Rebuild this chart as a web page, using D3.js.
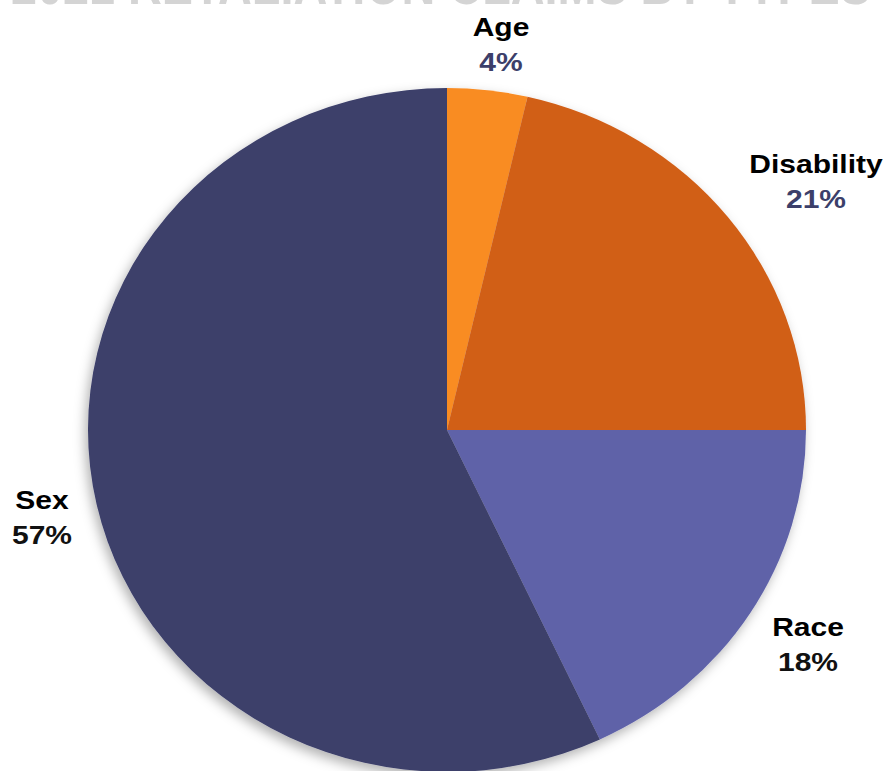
<!DOCTYPE html>
<html>
<head>
<meta charset="utf-8">
<script src="https://cdn.jsdelivr.net/npm/d3@7"></script>
<style>
  body { margin: 0; background: #fff; }
  svg { display: block; }
</style>
</head>
<body>
<script>
var categories = ["Age", "Disability", "Race", "Sex"];
var shares = [3.6, 21.4, 18, 57];
var pctLabels = ["4%", "21%", "18%", "57%"];
var colors = ["#F98C24", "#D15E17", "#5F62A8", "#3C3F6A"];
var pctColors = ["#3C3F6A", "#3C3F6A", "#111111", "#111111"];
var titleText = "2021 RETALIATION CLAIMS BY TYPES";

var width = 883;
var height = 771;
var cx = 447, cy = 430;
var rx = 359, ry = 342;

var data = categories.map(function(c, i) {
    return { name: c, value: shares[i], label: pctLabels[i], color: colors[i], pctColor: pctColors[i] };
});

var svg = d3.select("body")
    .append("svg")
    .attr("width", width)
    .attr("height", height);

var defs = svg.append("defs");
var filter = defs.append("filter")
    .attr("id", "shadow")
    .attr("x", "-10%").attr("y", "-10%")
    .attr("width", "120%").attr("height", "120%");
filter.append("feDropShadow")
    .attr("dx", -3).attr("dy", 5)
    .attr("stdDeviation", 6)
    .attr("flood-color", "#000")
    .attr("flood-opacity", 0.3);

// title, mostly cut off at the top of the picture
svg.append("text")
    .attr("x", 441)
    .attr("y", 4)
    .attr("text-anchor", "middle")
    .attr("textLength", 860)
    .attr("lengthAdjust", "spacingAndGlyphs")
    .style("font-family", "Liberation Sans, Arial, sans-serif")
    .style("font-weight", "bold")
    .style("font-size", "58px")
    .style("fill", "#d4d4d4")
    .text(titleText);

var pie = d3.pie()
    .sort(null)
    .value(function(d) { return d.value; });

var arc = d3.arc()
    .innerRadius(0)
    .outerRadius(rx);

// pie drawn as a circle then squashed vertically
var g = svg.append("g")
    .attr("filter", "url(#shadow)")
    .append("g")
    .attr("transform", "translate(" + cx + "," + cy + ") scale(1," + (ry / rx) + ")");

g.selectAll("path")
    .data(pie(data))
    .enter()
    .append("path")
    .attr("d", arc)
    .style("fill", function(d) { return d.data.color; });

// label positions
var labelPos = {
    "Age": [501, 36],
    "Disability": [816, 173],
    "Race": [808, 636],
    "Sex": [42, 509]
};

var labels = svg.append("g")
    .style("font-family", "Liberation Sans, Arial, sans-serif")
    .style("font-weight", "bold")
    .style("font-size", "25px")
    .attr("text-anchor", "middle");

data.forEach(function(d) {
    var p = labelPos[d.name];
    labels.append("text")
        .attr("transform", "translate(" + p[0] + "," + p[1] + ") scale(1.2,1)")
        .style("fill", "#000")
        .text(d.name);
    labels.append("text")
        .attr("transform", "translate(" + p[0] + "," + (p[1] + 35) + ") scale(1.2,1)")
        .style("fill", d.pctColor)
        .text(d.label);
});
</script>
</body>
</html>
